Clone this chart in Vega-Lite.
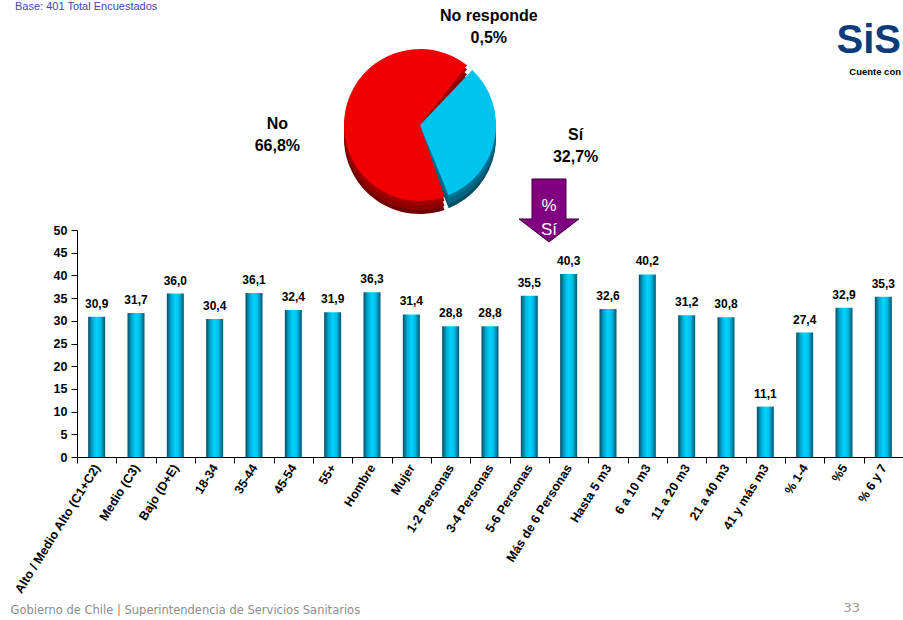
{
  "$schema": "https://vega.github.io/schema/vega-lite/v6.json",
  "background": "white",
  "padding": {"left": 10, "top": 0, "right": 0, "bottom": 0},
  "bounds": "flush",
  "spacing": 11,
  "title": {"text": "Base: 401 Total Encuestados", "anchor": "start", "font": "Liberation Sans", "fontSize": 11, "fontWeight": "normal", "color": "#4646a8", "offset": -4, "dx": 5},
  "config": {
    "locale": {"number": {"decimal": ",", "thousands": ".", "grouping": [3], "currency": ["", " $"]}},
    "view": {"stroke": null},
    "font": "Liberation Sans",
    "axis": {"grid": false},
    "axisY": {"values": [0, 5, 10, 15, 20, 25, 30, 35, 40, 45, 50], "labelOverlap": false, "title": null, "labelFontWeight": "bold", "labelFontSize": 12.5, "labelColor": "#000000", "tickColor": "#000000", "domainColor": "#000000", "tickSize": 6, "labelPadding": 4},
    "text": {"fontSize": 16, "fontWeight": "bold", "color": "#000000"}
  },
  "datasets": {
    "pie": [
      {"resp": "No responde", "p": 0.005, "o": 1},
      {"resp": "Sí", "p": 0.327, "o": 2},
      {"resp": "No", "p": 0.668, "o": 3}
    ],
    "bars": [
      {"cat": "Alto / Medio Alto (C1+C2)", "v": 30.9},
      {"cat": "Medio (C3)", "v": 31.7},
      {"cat": "Bajo (D+E)", "v": 36.0},
      {"cat": "18-34", "v": 30.4},
      {"cat": "35-44", "v": 36.1},
      {"cat": "45-54", "v": 32.4},
      {"cat": "55+", "v": 31.9},
      {"cat": "Hombre", "v": 36.3},
      {"cat": "Mujer", "v": 31.4},
      {"cat": "1-2 Personas", "v": 28.8},
      {"cat": "3-4 Personas", "v": 28.8},
      {"cat": "5-6 Personas", "v": 35.5},
      {"cat": "Más de 6 Personas", "v": 40.3},
      {"cat": "Hasta 5 m3", "v": 32.6},
      {"cat": "6 a 10 m3", "v": 40.2},
      {"cat": "11 a 20 m3", "v": 31.2},
      {"cat": "21 a 40 m3", "v": 30.8},
      {"cat": "41 y más m3", "v": 11.1},
      {"cat": "% 1-4", "v": 27.4},
      {"cat": "%5", "v": 32.9},
      {"cat": "% 6 y 7", "v": 35.3}
    ]
  },
  "vconcat": [
    {
      "width": 686,
      "height": 188,
      "title": {"text": "SiS", "subtitle": "Cuente con", "anchor": "end", "frame": "group", "offset": -69, "dx": 138, "font": "Liberation Sans", "fontSize": 40, "fontWeight": "bold", "color": "#0b3b78", "subtitleFont": "Liberation Sans", "subtitleFontSize": 9.5, "subtitleFontWeight": "bold", "subtitleColor": "#000000", "subtitlePadding": 6},
      "data": {"name": "pie"},
      "transform": [
        {"stack": "p", "groupby": [], "sort": [{"field": "o", "order": "ascending"}], "as": ["t0", "t1"]}
      ],
      "encoding": {
        "theta": {"field": "t0", "type": "quantitative", "scale": {"domain": [0, 1], "range": [0.698, 6.981]}}
      },
      "layer": [
        {
          "mark": {"type": "arc", "radius": 76, "yOffset": 13, "padAngle": 0.06},
          "encoding": {"theta2": {"field": "t1"}, "color": {"field": "resp", "type": "nominal", "scale": {"domain": ["No responde", "Sí", "No"], "range": ["#2a2a2a", "#004e64", "#6e0000"]}, "legend": null}}
        },
        {
          "mark": {"type": "arc", "radius": 76, "yOffset": 9, "padAngle": 0.06},
          "encoding": {"theta2": {"field": "t1"}, "color": {"field": "resp", "type": "nominal", "scale": {"domain": ["No responde", "Sí", "No"], "range": ["#333333", "#006480", "#8c0000"]}, "legend": null}}
        },
        {
          "mark": {"type": "arc", "radius": 76, "yOffset": 4, "padAngle": 0.06},
          "encoding": {"theta2": {"field": "t1"}, "color": {"field": "resp", "type": "nominal", "scale": {"domain": ["No responde", "Sí", "No"], "range": ["#3a3a3a", "#007494", "#a00000"]}, "legend": null}}
        },
        {
          "mark": {"type": "arc", "radius": 76, "padAngle": 0.06},
          "encoding": {"theta2": {"field": "t1"}, "color": {"field": "resp", "type": "nominal", "scale": {"domain": ["No responde", "Sí", "No"], "range": ["#5a5a5a", "#00c4f0", "#f00000"]}, "legend": null}}
        },
        {
          "transform": [{"filter": "datum.resp === 'No responde'"}],
          "mark": {"type": "text", "radius": 120, "thetaOffset": -0.087, "dy": -11},
          "encoding": {"text": {"field": "resp", "type": "nominal"}}
        },
        {
          "transform": [{"filter": "datum.resp === 'No responde'"}],
          "mark": {"type": "text", "radius": 120, "thetaOffset": -0.087, "dy": 11},
          "encoding": {"text": {"field": "p", "type": "quantitative", "format": ".1%"}}
        },
        {
          "transform": [{"filter": "datum.resp === 'Sí'"}],
          "mark": {"type": "text", "radius": 157, "thetaOffset": 0.976, "dy": -11},
          "encoding": {"text": {"field": "resp", "type": "nominal"}}
        },
        {
          "transform": [{"filter": "datum.resp === 'Sí'"}],
          "mark": {"type": "text", "radius": 157, "thetaOffset": 0.976, "dy": 11},
          "encoding": {"text": {"field": "p", "type": "quantitative", "format": ".1%"}}
        },
        {
          "transform": [{"filter": "datum.resp === 'No'"}],
          "mark": {"type": "text", "radius": 143, "thetaOffset": 1.86, "dy": -11},
          "encoding": {"text": {"field": "resp", "type": "nominal"}}
        },
        {
          "transform": [{"filter": "datum.resp === 'No'"}],
          "mark": {"type": "text", "radius": 143, "thetaOffset": 1.86, "dy": 11},
          "encoding": {"text": {"field": "p", "type": "quantitative", "format": ".1%"}}
        }
      ],
      "resolve": {"scale": {"color": "independent"}}
    },
    {
      "width": 826,
      "height": 227,
      "title": {"text": "33", "orient": "bottom", "anchor": "end", "frame": "group", "offset": -14, "dx": -43, "font": "DejaVu Sans", "fontSize": 13, "fontWeight": "normal", "color": "#999999"},
      "data": {"name": "bars"},
      "encoding": {
        "x": {
          "field": "cat", "type": "nominal", "sort": null,
          "scale": {"paddingInner": 0, "paddingOuter": 0},
          "axis": {
            "title": "Gobierno de Chile | Superintendencia de Servicios Sanitarios",
            "titleX": -67, "titleY": 153, "titleAlign": "left", "titleBaseline": "middle", "titleAngle": 0,
            "titleFont": "DejaVu Sans", "titleFontSize": 11.5, "titleFontWeight": "normal", "titleColor": "#8c8c8c",
            "labelAngle": -58, "labelFontWeight": "bold", "labelFontSize": 12.5, "labelColor": "#000000",
            "tickBand": "extent", "tickSize": 6, "tickColor": "#000000", "domainColor": "#000000", "labelPadding": 2
          }
        }
      },
      "layer": [
        {
          "mark": {"type": "bar", "size": 17, "color": {"x1": 0, "y1": 0, "x2": 1, "y2": 0, "gradient": "linear", "stops": [{"offset": 0, "color": "#004e66"}, {"offset": 0.25, "color": "#00a8d0"}, {"offset": 0.5, "color": "#00d4ff"}, {"offset": 0.72, "color": "#00bde8"}, {"offset": 1, "color": "#005570"}]}},
          "encoding": {
            "y": {"field": "v", "type": "quantitative", "scale": {"domain": [0, 50], "nice": false},
              "axis": {"values": [0, 5, 10, 15, 20, 25, 30, 35, 40, 45, 50], "labelOverlap": false, "title": null}}
          }
        },
        {
          "mark": {"type": "text", "baseline": "bottom", "dy": -6, "fontSize": 12, "fontWeight": "bold", "color": "#000000"},
          "encoding": {
            "y": {"field": "v", "type": "quantitative", "scale": {"domain": [0, 50], "nice": false},
              "axis": {"values": [0, 5, 10, 15, 20, 25, 30, 35, 40, 45, 50], "labelOverlap": false, "title": null}},
            "text": {"field": "v", "type": "quantitative", "format": ".1f"}
          }
        },
        {
          "data": {"values": [{"note": "% Sí"}]},
          "mark": {"type": "point", "shape": "M-0.54,-1L0.54,-1L0.54,0.27L0.95,0.27L0,1L-0.95,0.27L-0.54,0.27Z", "size": 3970, "filled": true, "color": "#800080", "stroke": "#3c003c", "strokeWidth": 1, "opacity": 1},
          "encoding": {
            "x": {"datum": "5-6 Personas", "bandPosition": 1},
            "y": {"datum": 54.3, "type": "quantitative", "scale": {"domain": [0, 50], "nice": false},
              "axis": {"values": [0, 5, 10, 15, 20, 25, 30, 35, 40, 45, 50], "labelOverlap": false, "title": null}}
          }
        },
        {
          "data": {"values": [{"note": "% Sí"}]},
          "mark": {"type": "text", "text": ["%", "Sí"], "color": "#ffffff", "fontSize": 17, "fontWeight": "normal", "lineHeight": 24, "baseline": "middle"},
          "encoding": {
            "x": {"datum": "5-6 Personas", "bandPosition": 1},
            "y": {"datum": 55.3, "type": "quantitative", "scale": {"domain": [0, 50], "nice": false},
              "axis": {"values": [0, 5, 10, 15, 20, 25, 30, 35, 40, 45, 50], "labelOverlap": false, "title": null}}
          }
        }
      ]
    }
  ]
}
